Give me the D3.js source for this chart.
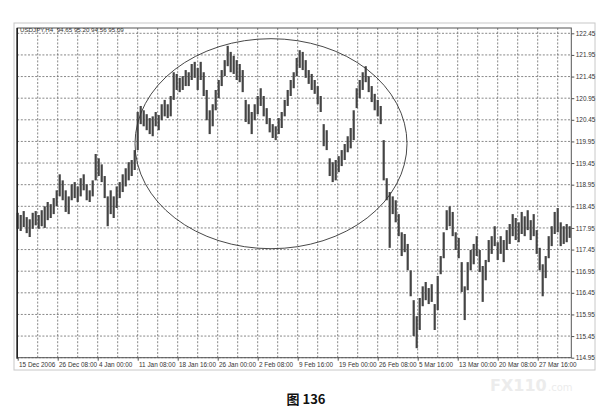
<!DOCTYPE html>
<html><head><meta charset="utf-8">
<script src="https://cdn.jsdelivr.net/npm/d3@7"></script>
<style>body{margin:0;background:#fff}svg{display:block}</style>
</head><body>
<svg id="c" width="610" height="412"></svg>
<script>
// H4 USDJPY bars (sampled), high and low prices
const highs = [118.30,118.25,118.34,118.20,118.15,118.30,118.34,118.25,118.36,118.45,118.55,118.50,118.64,118.82,
119.19,119.05,118.82,118.68,118.96,119.01,118.91,119.10,119.19,118.96,118.82,119.05,119.66,119.56,119.42,119.15,
118.68,118.82,118.68,118.91,119.01,119.19,119.33,119.47,119.52,119.75,120.63,120.77,120.67,120.58,120.49,120.53,
120.63,120.56,120.81,120.91,120.81,121.00,121.55,121.51,121.42,121.46,121.60,121.55,121.74,121.79,121.65,121.79,
121.55,121.14,120.67,120.81,121.14,121.37,121.60,121.83,122.16,122.02,121.93,121.83,121.74,121.60,120.91,120.81,
120.63,120.81,121.00,121.18,121.00,120.72,120.49,120.35,120.30,120.49,120.63,120.91,121.14,121.37,121.55,121.88,
122.06,122.02,121.83,121.60,121.51,121.37,121.23,121.00,120.35,120.21,119.56,119.47,119.52,119.61,119.75,119.89,
120.07,120.26,120.67,121.18,121.37,121.55,121.69,121.46,121.23,121.05,120.91,120.77,119.98,119.10,118.78,118.68,
118.59,118.27,117.85,117.81,117.58,116.97,116.28,115.91,116.33,116.60,116.70,116.56,116.65,116.19,116.84,117.30,
117.85,118.36,118.45,118.32,117.85,117.72,117.16,116.60,117.16,117.44,117.58,117.76,117.44,117.07,117.21,117.67,
117.76,117.99,117.62,117.76,117.67,117.90,118.04,118.27,118.18,118.08,118.32,118.22,118.36,118.13,118.27,117.90,
117.49,117.11,117.30,117.76,117.99,118.32,118.41,118.08,117.99,118.04,117.99];
const lows = [117.93,117.88,117.97,117.83,117.74,117.93,118.01,117.93,117.99,117.95,118.13,118.18,118.27,118.45,
118.68,118.59,118.32,118.27,118.59,118.64,118.55,118.68,118.82,118.59,118.55,118.68,119.05,119.15,119.01,118.64,
117.99,118.27,118.18,118.41,118.64,118.78,118.91,119.05,119.15,119.29,119.75,120.35,120.30,120.21,120.12,120.07,
120.30,120.21,120.44,120.53,120.49,120.53,120.91,121.14,121.09,121.14,121.23,121.23,121.37,121.42,121.14,121.37,
121.00,120.44,120.12,120.30,120.67,120.95,121.23,121.46,121.69,121.55,121.51,121.37,121.32,121.09,120.40,120.35,
120.12,120.44,120.58,120.77,120.53,120.35,120.16,120.03,119.98,120.12,120.26,120.53,120.77,121.00,121.18,121.46,
121.65,121.60,121.42,121.28,121.14,121.05,120.81,120.63,119.84,119.75,119.15,119.01,119.05,119.24,119.38,119.52,
119.70,119.79,119.98,120.72,120.95,121.14,121.32,121.09,120.86,120.67,120.53,120.35,119.05,118.59,117.49,118.27,
118.08,117.76,117.30,117.39,116.97,116.37,115.45,115.17,115.59,116.14,116.28,116.19,116.24,115.59,116.05,116.88,
117.25,117.90,117.99,117.76,117.44,117.25,116.47,115.82,116.51,116.97,117.11,117.30,116.93,116.24,116.74,117.16,
117.35,117.53,117.21,117.35,117.16,117.44,117.58,117.76,117.67,117.62,117.81,117.76,117.90,117.67,117.76,117.35,
116.97,116.37,116.79,117.25,117.53,117.81,117.85,117.53,117.58,117.62,117.72];
const priceTicks = [122.45,121.95,121.45,120.95,120.45,119.95,119.45,118.95,118.45,117.95,117.45,116.95,116.45,115.95,115.45,114.95];
const timeLabels = ["15 Dec 2006","26 Dec 08:00","4 Jan 00:00","11 Jan 08:00","18 Jan 16:00","26 Jan 00:00","2 Feb 08:00",
"9 Feb 16:00","19 Feb 00:00","26 Feb 08:00","5 Mar 16:00","13 Mar 00:00","20 Mar 08:00","27 Mar 16:00"];
const header = "USDJPY,H4  94.65 95.20 94.56 95.09";
const caption = "图 136";

const svg = d3.select("#c");
const L = 17.2, R = 571.3, T = 28, B = 357.7;
const h4PerBar = 2.4, h4PerLabel = 32, h4PerGrid = 16;
const x = d3.scaleLinear().domain([0, 444]).range([17.7, 572.7]);
const y = d3.scaleLinear().domain([114.95, 122.45]).range([357.7, 33.3]);
const font = "'Liberation Sans', Arial, sans-serif";

// outer light box
svg.append("rect").attr("x",14).attr("y",23).attr("width",581).attr("height",347)
  .attr("fill","none").attr("stroke","#c8c8c8").attr("stroke-width",1);

// grid
const g = svg.append("g");
g.selectAll("line.h").data(priceTicks).join("line")
  .attr("x1",L).attr("x2",R).attr("y1",d=>y(d)).attr("y2",d=>y(d))
  .attr("stroke","#6a6a6a").attr("stroke-width",0.8).attr("stroke-dasharray","2,1.6");
const gridPos = d3.range(h4PerGrid, 440, h4PerGrid);
g.selectAll("line.v").data(gridPos).join("line")
  .attr("x1",d=>x(d)).attr("x2",d=>x(d)).attr("y1",T).attr("y2",B)
  .attr("stroke","#6a6a6a").attr("stroke-width",0.8).attr("stroke-dasharray","2,1.6");

// bars
svg.append("g").selectAll("line").data(highs).join("line")
  .attr("x1",(d,i)=>x(i*h4PerBar)).attr("x2",(d,i)=>x(i*h4PerBar))
  .attr("y1",d=>y(d)).attr("y2",(d,i)=>y(lows[i]))
  .attr("stroke","#444").attr("stroke-width",2.2);

// frame
svg.append("rect").attr("x",L).attr("y",T).attr("width",R-L).attr("height",B-T)
  .attr("fill","none").attr("stroke","#555").attr("stroke-width",1);
svg.append("line").attr("x1",L).attr("x2",L).attr("y1",T).attr("y2",B+1)
  .attr("stroke","#222").attr("stroke-width",1.6);

// ellipse
svg.append("ellipse").attr("cx",271).attr("cy",143.7).attr("rx",136).attr("ry",105)
  .attr("fill","none").attr("stroke","#333").attr("stroke-width",0.9);

// y axis
const ya = svg.append("g").attr("transform",`translate(${R},0)`)
  .call(d3.axisRight(y).tickValues(priceTicks).tickSize(3).tickPadding(1.5).tickFormat(d3.format(".2f")));
ya.select(".domain").remove();
ya.selectAll("line").attr("stroke","#555");
ya.selectAll("text").attr("font-family",font).attr("font-size","6.4px").attr("fill","#333");

// x axis
const labelPos = timeLabels.map((d,i)=>i*h4PerLabel);
const xa = svg.append("g").attr("transform",`translate(0,${B})`)
  .call(d3.axisBottom(x).tickValues(labelPos).tickSize(3).tickFormat((d,i)=>timeLabels[i]));
xa.select(".domain").remove();
xa.selectAll("line").attr("stroke","#555");
xa.selectAll("text").attr("font-family",font).attr("font-size","6.4px").attr("fill","#333")
  .attr("text-anchor","start").attr("dx","0.8").attr("dy","0.5em");

// header
svg.append("text").attr("x",20).attr("y",32).attr("font-family",font).attr("font-size","6.2px")
  .attr("fill","#333").attr("xml:space","preserve").style("white-space","pre").text(header);

// watermark
svg.append("text").attr("x",490).attr("y",391).attr("font-family","'DejaVu Sans', sans-serif")
  .attr("font-size","16px").attr("font-weight","bold").attr("fill","#ececec").text("FX110");
svg.append("text").attr("x",548).attr("y",391).attr("font-family","'DejaVu Sans', sans-serif")
  .attr("font-size","10px").attr("fill","#ececec").text(".com");

// caption
svg.append("text").attr("x",306).attr("y",404).attr("text-anchor","middle")
  .attr("font-family","'Noto Sans CJK SC', sans-serif").attr("font-weight","bold")
  .attr("font-size","13px").attr("fill","#111").text(caption);
</script>
</body></html>
